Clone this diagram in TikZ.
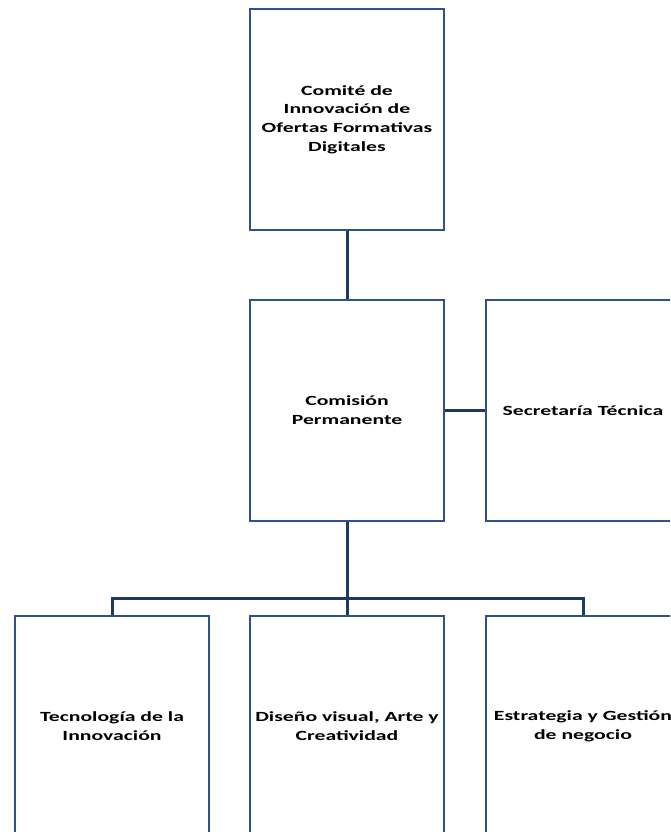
\documentclass[tikz,border=0pt]{standalone}
\usepackage{fontspec}
\setmainfont{Carlito}
\newfontfamily\boxfont{Carlito}[FakeStretch=1.55]
\usepackage{tikz}
\definecolor{boxblue}{RGB}{47,82,143}
\definecolor{linenavy}{RGB}{31,56,100}

\begin{document}
\begin{tikzpicture}[x=1pt, y=1pt, unit/.style = {shape=rectangle, draw=boxblue, line width=1.3pt, fill=white, align=center, minimum width=194pt, minimum height=221pt, inner sep=0pt, font=\boxfont\fontsize{14}{18.8}\selectfont\bfseries}, link/.style = {draw=linenavy, line width=3pt}]
\useasboundingbox (0,0) rectangle (670,832);
\clip (0,0) rectangle (670,832);
\node[unit] (comite) at (347,712.5) {Comité de\\Innovación de\\Ofertas Formativas\\Digitales};
\node[unit] (comision) at (347,421.5) {Comisión\\Permanente};
\node[unit] (secretaria) at (583,421.5) {Secretaría Técnica};
\node[unit] (tecno) at (112,105.5) {Tecnología de la\\Innovación};
\node[unit] (diseno) at (347,105.5) {Diseño visual, Arte y\\Creatividad};
\node[unit] (estrategia) at (583,105.5) {Estrategia y Gestión\\de negocio};
\coordinate (bus) at (347,233);
% connectors
\draw[link] (comite) -- (comision);
\draw[link] (comision) -- (secretaria);
\draw[link] (comision) -- (diseno);
\draw[link] (tecno.north) |- (bus) -| (estrategia.north);
\end{tikzpicture}
\end{document}
